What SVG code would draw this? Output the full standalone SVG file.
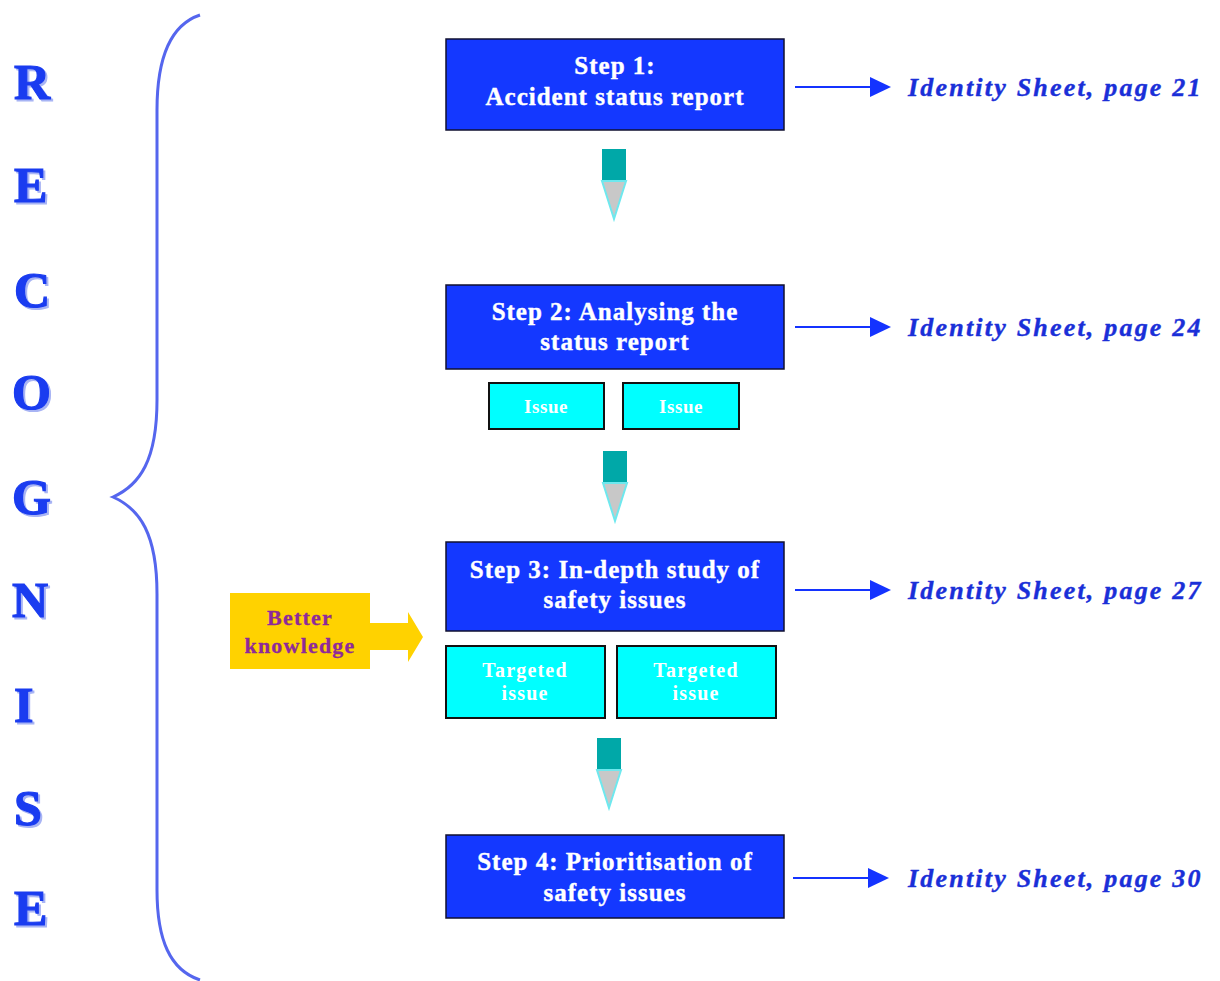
<svg xmlns="http://www.w3.org/2000/svg" width="1220" height="981" viewBox="0 0 1220 981">
<style>
.letter{font-family:"Liberation Serif",serif;font-weight:700;font-size:50px;fill:#1a3cf0;stroke:#1a3cf0;stroke-width:1.2}
.shadow{font-family:"Liberation Serif",serif;font-weight:700;font-size:50px;fill:#a8b4f4;stroke:#a8b4f4;stroke-width:1.2}
.step{fill:#1438ff;stroke:#101030;stroke-width:1.5}
.stxt{font-family:"Liberation Serif",serif;font-weight:700;font-size:25px;fill:#fff;stroke:#fff;stroke-width:0.4;text-anchor:middle;letter-spacing:1px}
.iss{fill:#00ffff;stroke:#111;stroke-width:2}
.itxt{font-family:"Liberation Serif",serif;font-weight:700;font-size:19px;fill:#fff;text-anchor:middle;letter-spacing:0.6px}
.ttxt{font-family:"Liberation Serif",serif;font-weight:700;font-size:20px;fill:#fff;text-anchor:middle;letter-spacing:1.2px}
.ref{font-family:"Liberation Serif",serif;font-weight:700;font-style:italic;font-size:26px;fill:#1a2fd8;stroke:#1a2fd8;stroke-width:0.4;letter-spacing:2.2px}
.conn{stroke:#1433ff;stroke-width:2;fill:none}
.head{fill:#1433ff}
.dbox{fill:#00a8a8}
.dtri{fill:#c8c8c8;stroke:#6ee8ee;stroke-width:2}
.bk{font-family:"Liberation Serif",serif;font-weight:700;font-size:22px;fill:#8e2a9a;stroke:#8e2a9a;stroke-width:0.3;text-anchor:middle;letter-spacing:1.2px}
</style>
<g id="letters">
<text class="shadow" x="16" y="101">R</text><text class="letter" x="14" y="99">R</text>
<text class="shadow" x="16" y="204">E</text><text class="letter" x="14" y="202">E</text>
<text class="shadow" x="16" y="309">C</text><text class="letter" x="14" y="307">C</text>
<text class="shadow" x="14" y="411">O</text><text class="letter" x="12" y="409">O</text>
<text class="shadow" x="14" y="516">G</text><text class="letter" x="12" y="514">G</text>
<text class="shadow" x="14" y="619">N</text><text class="letter" x="12" y="617">N</text>
<text class="shadow" x="16" y="724">I</text><text class="letter" x="14" y="722">I</text>
<text class="shadow" x="16" y="827">S</text><text class="letter" x="14" y="825">S</text>
<text class="shadow" x="16" y="927">E</text><text class="letter" x="14" y="925">E</text>
</g>
<g id="brace">
<path d="M200,15 C170,25 157,60 157,110 L157,400 C157,460 140,485 113,497 C140,509 157,534 157,594 L157,890 C157,940 170,970 200,980" stroke="#5566ee" stroke-width="3" fill="none"/>
</g>
<g id="connectors">
<line class="conn" x1="795" y1="87" x2="872" y2="87"/><polygon class="head" points="870,77 891,87 870,97"/>
<line class="conn" x1="795" y1="327" x2="872" y2="327"/><polygon class="head" points="870,317 891,327 870,337"/>
<line class="conn" x1="795" y1="590" x2="872" y2="590"/><polygon class="head" points="870,580 891,590 870,600"/>
<line class="conn" x1="793" y1="878" x2="870" y2="878"/><polygon class="head" points="868,868 889,878 868,888"/>
<rect class="dbox" x="602" y="149" width="24" height="32"/><polygon class="dtri" points="602,181 626,181 614,219"/>
<rect class="dbox" x="603" y="451" width="24" height="32"/><polygon class="dtri" points="603,483 627,483 615,521"/>
<rect class="dbox" x="597" y="738" width="24" height="32"/><polygon class="dtri" points="597,770 621,770 609,808"/>
<polygon points="368,623 408,623 408,612 423,637 408,662 408,650 368,650" fill="#ffd200"/>
</g>
<g id="step1">
<rect class="step" x="446" y="39" width="338" height="91"/>
<text class="stxt" x="615" y="74">Step 1:</text>
<text class="stxt" x="615" y="105">Accident status report</text>
</g>
<g id="step2">
<rect class="step" x="446" y="285" width="338" height="84"/>
<text class="stxt" x="615" y="320">Step 2: Analysing the</text>
<text class="stxt" x="615" y="350">status report</text>
</g>
<g id="issue1"><rect class="iss" x="489" y="383" width="115" height="46"/><text class="itxt" x="546" y="413">Issue</text></g>
<g id="issue2"><rect class="iss" x="623" y="383" width="116" height="46"/><text class="itxt" x="681" y="413">Issue</text></g>
<g id="step3">
<rect class="step" x="446" y="542" width="338" height="89"/>
<text class="stxt" x="615" y="578">Step 3: In-depth study of</text>
<text class="stxt" x="615" y="608">safety issues</text>
</g>
<g id="targeted1"><rect class="iss" x="446" y="646" width="159" height="72"/><text class="ttxt" x="525" y="677">Targeted</text><text class="ttxt" x="525" y="700">issue</text></g>
<g id="targeted2"><rect class="iss" x="617" y="646" width="159" height="72"/><text class="ttxt" x="696" y="677">Targeted</text><text class="ttxt" x="696" y="700">issue</text></g>
<g id="step4">
<rect class="step" x="446" y="835" width="338" height="83"/>
<text class="stxt" x="615" y="870">Step 4: Prioritisation of</text>
<text class="stxt" x="615" y="901">safety issues</text>
</g>
<g id="better">
<rect x="230" y="593" width="140" height="76" fill="#ffd200"/>
<text class="bk" x="300" y="625">Better</text>
<text class="bk" x="300" y="653">knowledge</text>
</g>
<g id="ref1"><text class="ref" x="908" y="96">Identity Sheet, page 21</text></g>
<g id="ref2"><text class="ref" x="908" y="336">Identity Sheet, page 24</text></g>
<g id="ref3"><text class="ref" x="908" y="599">Identity Sheet, page 27</text></g>
<g id="ref4"><text class="ref" x="908" y="887">Identity Sheet, page 30</text></g>
</svg>
